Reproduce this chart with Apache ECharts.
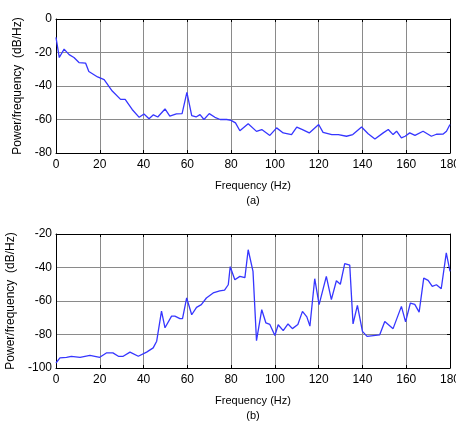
<!DOCTYPE html>
<html>
<head>
    <meta charset="utf-8" />
    <style type="text/css">
        body, html {width: 100%;height: 100%;margin:0;background:#fff;}
        #main{width:456px;height:423px;}
    </style>
    <script src="https://cdn.jsdelivr.net/npm/echarts@6/dist/echarts.min.js"></script>
</head>
<body>
<div id="main"></div>
<script type="text/javascript">
    // (a) spectrum: frequency (Hz) / power (dB/Hz)
    var freqA = [0, 1.5, 3.7, 6, 8.2, 10.5, 13.5, 15, 19, 22, 25.7, 29.5, 31.6, 34.8, 38, 40.2, 42.5, 44.5, 46.5,
        49.8, 52, 55, 57.6, 59.8, 62, 64, 65.8, 67.6, 70, 72.6, 75, 78, 80, 82, 84, 87.8, 91.6, 94, 97.7, 100.8,
        103.8, 107.6, 110, 112.6, 115.7, 120, 122, 126, 129, 132.7, 135.6, 139.6, 142.6, 145.7, 149.5, 151.8,
        154, 155.6, 157.8, 159.5, 161.6, 164, 167.7, 171.5, 173.8, 176.9, 178.4, 180];
    var powerA = [-11, -23, -18, -21.3, -23, -26, -26.3, -31.3, -34.6, -36.2, -43, -48, -48, -54, -58.7, -56.7, -59.5, -57.2, -58.5,
        -53.7, -58, -56.7, -56.5, -43.8, -57.7, -58.5, -57.1, -60, -56.5, -58.7, -60, -60, -60.5, -62, -66.7, -62.5, -67.1, -66, -69.5, -65,
        -68, -69, -64.5, -66, -68, -63, -67.7, -69, -69, -70, -69, -64.5, -68.5, -71.6, -68, -66,
        -69, -67, -71, -70, -68, -69.5, -67, -70, -68.8, -68.7, -67, -63];

    // (b) spectrum
    var freqB = [0, 1.8, 4.8, 7, 11, 15.5, 20, 23, 26, 28.5, 30.7, 33.8, 37.6, 41.4, 44.4, 46, 48.2, 49.8, 52.8, 54.3,
        56.6, 57.8, 59.7, 62, 64.2, 66.4, 68.7, 71.8, 74.8, 77, 78.7, 79.6, 81.7, 84, 86.3, 87.8, 90, 91.6, 94, 95.9,
        97.7, 100, 101.5, 103.8, 106, 108, 110.5, 112.6, 114.6, 116, 118.2, 120.2, 123.5, 125.8, 128.1, 129.9, 131.9,
        134.2, 135.7, 137.7, 140, 142.1, 147.9, 150.2, 154, 157.8, 159.7, 161.9, 163.9, 165.9, 168, 170, 171.9,
        173.8, 176, 178.3, 180];
    var powerB = [-97, -94, -93.6, -93, -93.6, -92.5, -93.6, -91, -91, -93, -93, -90.5, -93, -90.5, -88, -84, -66, -76, -69, -69,
        -70.5, -70.5, -58.2, -68.2, -63.8, -62.2, -58.2, -55.2, -54, -53.5, -50.3, -39.5, -47.3, -45.3, -46, -29.4, -42.3, -83.7, -65.2, -73.1,
        -74, -80.6, -74.2, -77.7, -73.7, -76.5, -74, -66.2, -69.5, -75, -46.7, -62.2, -45.3, -59.2, -47.9, -50, -37.7,
        -38.6, -73.7, -62.6, -78.1, -81.1, -80.2, -72.2, -76.5, -63.2, -72.5, -61.2, -62, -66.6, -46.3, -47.7, -51.3,
        -50.3, -52.7, -31.3, -42.3];

    function pairs(xs, ys) {
        var out = [];
        for (var i = 0; i < xs.length; i++) out.push([xs[i], ys[i]]);
        return out;
    }

    var font = 'Liberation Sans';
    var gridLine = {show: true, lineStyle: {color: '#8a8a8a', width: 1}};
    var frame = {show: true, onZero: false, lineStyle: {color: '#000', width: 1}};

    function xAx(idx, name) {
        return [{
            type: 'value', gridIndex: idx, min: 0, max: 180, interval: 20,
            axisLine: frame, axisTick: {show: true, inside: true, length: 3, lineStyle: {color: '#000'}},
            splitLine: gridLine,
            axisLabel: {color: '#000', fontFamily: font, fontSize: 12, margin: 6},
            name: name, nameLocation: 'middle', nameGap: 25,
            nameTextStyle: {color: '#000', fontFamily: font, fontSize: 11, lineHeight: 15}
        }, {
            type: 'value', gridIndex: idx, position: 'top', min: 0, max: 180, interval: 20,
            axisLine: frame, axisTick: {show: true, inside: true, length: 3, lineStyle: {color: '#000'}},
            axisLabel: {show: false}, splitLine: {show: false}
        }];
    }

    function yAx(idx, min, max) {
        return [{
            type: 'value', gridIndex: idx, min: min, max: max, interval: 20,
            axisLine: frame, axisTick: {show: false},
            splitLine: gridLine,
            axisLabel: {color: '#000', fontFamily: font, fontSize: 12, margin: 4},
            name: 'Power/frequency  (dB/Hz)', nameLocation: 'middle', nameGap: 28,
            nameTextStyle: {color: '#000', fontFamily: font, fontSize: 12}
        }, {
            type: 'value', gridIndex: idx, position: 'right', min: min, max: max, interval: 20,
            axisLine: frame, axisTick: {show: true, inside: true, length: 3, lineStyle: {color: '#000'}},
            axisLabel: {show: false}, splitLine: {show: false}
        }];
    }

    var chart = echarts.init(document.getElementById('main'));
    var option = {
        backgroundColor: '#fff',
        animation: false,
        grid: [
            {left: 56, right: 6, top: 19, height: 134, containLabel: false, outerBoundsMode: 'none'},
            {left: 56, right: 6, top: 234, height: 134, containLabel: false, outerBoundsMode: 'none'}
        ],
        xAxis: xAx(0, 'Frequency (Hz)\n(a)').concat(xAx(1, 'Frequency (Hz)\n(b)')),
        yAxis: yAx(0, -80, 0).concat(yAx(1, -100, -20)),
        series: [
            {
                type: 'line', xAxisIndex: 0, yAxisIndex: 0, showSymbol: false,
                lineStyle: {color: '#3636ff', width: 1.3},
                data: pairs(freqA, powerA)
            },
            {
                type: 'line', xAxisIndex: 2, yAxisIndex: 2, showSymbol: false,
                lineStyle: {color: '#3636ff', width: 1.3},
                data: pairs(freqB, powerB)
            }
        ]
    };
    chart.setOption(option);
</script>
</body>
</html>
